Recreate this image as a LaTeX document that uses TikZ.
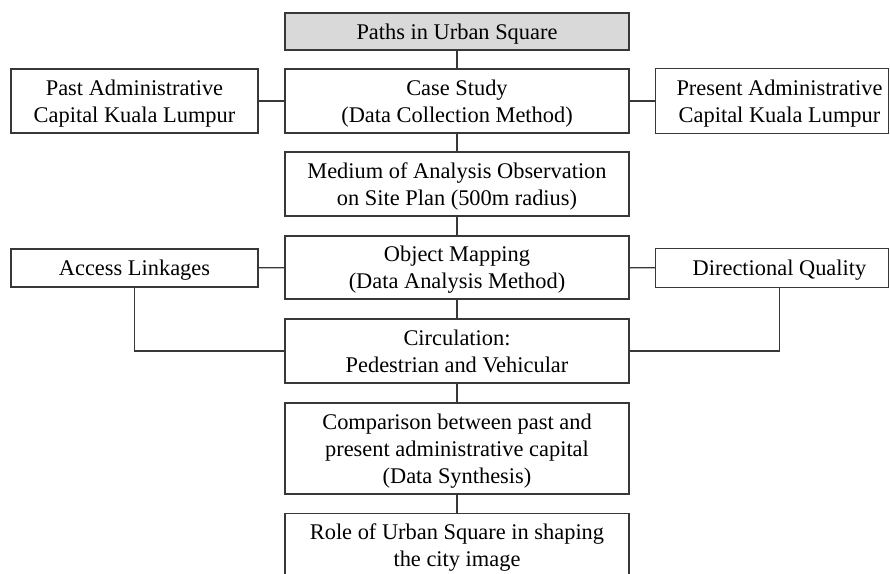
\documentclass[tikz,border=0pt]{standalone}
\usepackage{fontspec}
\setmainfont{Liberation Serif}
\begin{document}
\begin{tikzpicture}[x=0.75pt,y=-0.75pt,
  box/.style={draw=black!78,line width=1pt,fill=white,align=center,inner sep=0pt,
    font=\fontsize{16.8}{20.2}\selectfont,text=black,text depth=0pt},
  wide/.style={box,minimum width=344*0.75pt},
  side/.style={box,minimum width=247*0.75pt},
  link/.style={draw=black!78,line width=1pt}]
\useasboundingbox (0,0) rectangle (890,574);
\fill[white] (0,0) rectangle (890,574);
\node[wide,fill=black!15,minimum height=37*0.75pt] (top) at (457,31.5) {Paths in Urban Square};
\node[wide,minimum height=64*0.75pt] (case) at (457,101) {Case Study\\(Data Collection Method)};
\node[side,minimum height=64*0.75pt] (past) at (134.5,101) {Past Administrative\\Capital Kuala Lumpur};
\node[side,draw=none,minimum height=64*0.75pt] (present) at (779.5,101) {Present Administrative\\Capital Kuala Lumpur};
\draw[link] (present.north west) rectangle ([xshift=-15*0.75pt]present.south east);
\node[wide,minimum height=64*0.75pt] (medium) at (457,184) {Medium of Analysis Observation\\on Site Plan (500m radius)};
\node[wide,minimum height=63*0.75pt] (object) at (457,267.5) {Object Mapping\\(Data Analysis Method)};
\node[side,minimum height=38*0.75pt] (access) at (134.5,268) {Access Linkages};
\node[side,draw=none,minimum height=38*0.75pt] (dir) at (779.5,268) {Directional Quality};
\draw[link] (dir.north west) rectangle ([xshift=-15*0.75pt]dir.south east);
\node[wide,minimum height=64*0.75pt] (circ) at (457,351) {Circulation:\\Pedestrian and Vehicular};
\node[wide,minimum height=91*0.75pt] (comp) at (457,448.5) {Comparison between past and\\present administrative capital\\(Data Synthesis)};
\node[wide,minimum height=64*0.75pt] (role) at (457,545.5) {Role of Urban Square in shaping\\the city image};
\draw[link] (top) -- (case);
\draw[link] (case) -- (medium);
\draw[link] (medium) -- (object);
\draw[link] (object) -- (circ);
\draw[link] (circ) -- (comp);
\draw[link] (comp) -- (role);
\draw[link] (past) -- (case);
\draw[link] (case) -- (present);
\draw[link] (access) -- (object);
\draw[link] (object) -- (dir);
\draw[link] (access.south) |- (circ.west);
\draw[link] (dir.south) |- (circ.east);
\end{tikzpicture}
\end{document}
